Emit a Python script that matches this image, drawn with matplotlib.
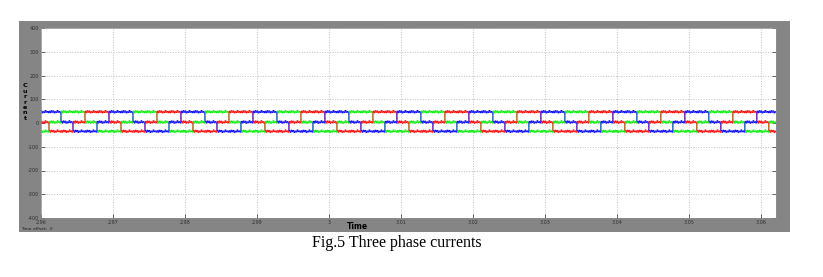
import matplotlib.pyplot as plt
import numpy as np

# values
t_min, t_max = 2.96, 3.0621
red_rise = 2.96611          # first rising edge of the red phase
period = 0.01               # one electrical cycle
levels = {'hi': 47, 'mid': 4, 'lo': -35}

# six 60-degree sectors per cycle, starting at a red rising edge
red_steps = ['hi', 'hi', 'mid', 'lo', 'lo', 'mid']
blue_steps = ['lo', 'mid', 'hi', 'hi', 'mid', 'lo']
green_steps = ['mid', 'lo', 'lo', 'mid', 'hi', 'hi']

# ripple on the flat parts (scope units)
ripple = [3, -4, 5, -2, 4, -5, 1, -3, 6, -2, 2, -4]

x_ticks = [2.96, 2.97, 2.98, 2.99, 3.0, 3.01, 3.02, 3.03, 3.04, 3.05, 3.06]
x_labels = ['2.96', '2.97', '2.98', '2.99', '3', '3.01', '3.02', '3.03', '3.04', '3.05', '3.06']
y_ticks = [-400, -300, -200, -100, 0, 100, 200, 300, 400]


def build_trace(steps):
    sector = period / 6
    start = red_rise - period
    xs, ys = [], []
    i = 0
    while start + i * sector < t_max + sector:
        t0 = start + i * sector
        base = levels[steps[i % 6]]
        for j, r in enumerate(ripple):
            xs.append(t0 + j * sector / len(ripple))
            ys.append(base + r)
        i += 1
    return xs, ys


W, H = 823, 277
fig = plt.figure(figsize=(W / 100, H / 100), dpi=100)
fig.patch.set_facecolor('white')

# gray scope window
bg = fig.add_axes([19 / W, 1 - 232 / H, (790 - 19) / W, (232 - 21) / H], zorder=0)
bg.set_facecolor('#858585')
bg.set_xticks([])
bg.set_yticks([])
for s in bg.spines.values():
    s.set_visible(False)

ax = fig.add_axes([41 / W, 1 - 218 / H, (776 - 41) / W, (218 - 28) / H], zorder=1)
ax.set_facecolor('white')

for steps, col in [(green_steps, '#00ee00'), (red_steps, '#ff0000'), (blue_steps, '#0000ff')]:
    xs, ys = build_trace(steps)
    ax.plot(xs, ys, color=col, linewidth=0.6, drawstyle='steps-post')

ax.set_xlim(t_min, t_max)
ax.set_ylim(-400, 400)
ax.set_xticks(x_ticks)
ax.set_xticklabels(x_labels)
ax.set_yticks(y_ticks)
ax.set_yticklabels([str(v) for v in y_ticks])
ax.tick_params(axis='both', labelsize=3.5, colors='#303030', direction='in', length=3, width=0.5, pad=1.5)
ax.tick_params(axis='y', right=True)
ax.grid(True, color='#c0c0c0', linestyle=':', linewidth=0.7)
for s in ax.spines.values():
    s.set_color('#909090')
    s.set_linewidth(0.5)

# scope labels
fig.text(25 / W, 1 - 102 / H, 'C\nu\nr\nr\ne\nn\nt', fontsize=4.6, fontweight='bold',
         ha='center', va='center', linespacing=1.1, color='black', zorder=3)
fig.text(357 / W, 1 - 226.5 / H, 'Time', fontsize=5.5, fontweight='bold', ha='center', va='center', zorder=3)
fig.text(21 / W, 1 - 229 / H, 'Time offset:  0', fontsize=3.2, ha='left', va='center',
         color='#202020', zorder=3)

# caption
fig.text(397 / W, 1 - 243 / H, 'Fig.5 Three phase currents', fontsize=11.5,
         family='Liberation Serif', ha='center', va='center')

fig.savefig('out.png', dpi=100)
